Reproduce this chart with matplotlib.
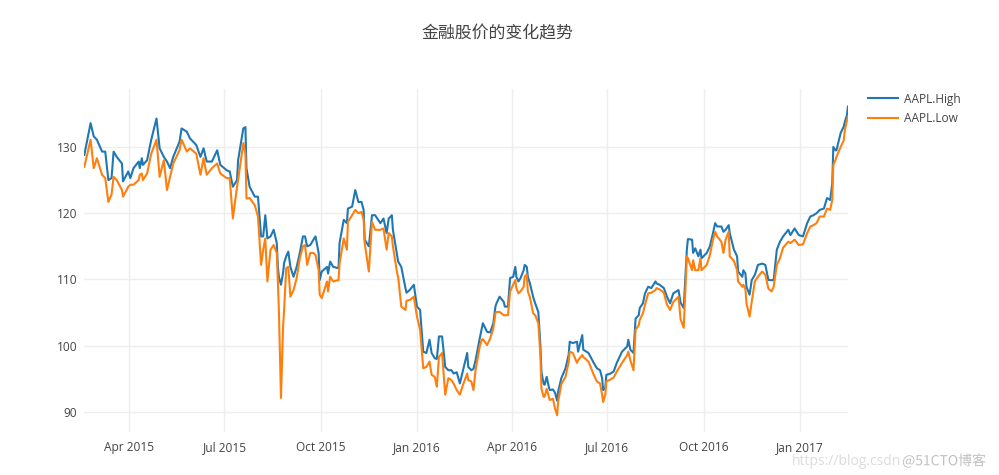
import pandas as pd
import matplotlib
matplotlib.use("Agg")
import matplotlib.pyplot as plt
import matplotlib.dates as mdates
import matplotlib.patheffects as pe

# days after 2015-02-17 for each sampled point
day_offset = [0, 6, 9, 12, 17, 20, 23, 26, 28, 31, 36, 37, 42, 44, 47, 52, 53, 55, 56, 60,
              64, 69, 72, 76, 79, 82, 85, 91, 93, 98, 101, 107, 111, 114, 117, 122, 127, 130, 136, 139,
              142, 146, 147, 152, 154, 155, 158, 163, 166, 169, 171, 173, 175, 178, 181, 184, 185, 186, 188, 190,
              191, 193, 195, 197, 200, 203, 206, 209, 211, 213, 216, 219, 221, 224, 225, 227, 232, 233, 235, 238,
              243, 244, 248, 251, 252, 256, 259, 262, 265, 267, 268, 272, 275, 278, 283, 286, 289, 291, 294, 295,
              299, 300, 303, 307, 308, 311, 315, 318, 321, 324, 327, 330, 332, 335, 337, 339, 342, 345, 348, 351,
              353, 356, 359, 362, 366, 367, 370, 372, 374, 378, 380, 381, 385, 388, 391, 393, 394, 397, 401, 402,
              405, 407, 410, 412, 413, 415, 417, 420, 421, 423, 424, 426, 429, 431, 434, 436, 437, 439, 440, 442,
              444, 445, 448, 450, 452, 453, 456, 460, 463, 464, 467, 471, 472, 476, 477, 482, 487, 490, 493, 495,
              496, 498, 499, 503, 506, 509, 514, 519, 520, 522, 525, 527, 530, 531, 534, 536, 539, 542, 546, 547,
              550, 554, 557, 560, 563, 568, 570, 573, 576, 577, 581, 582, 584, 587, 589, 590, 595, 598, 601, 603,
              605, 609, 611, 613, 616, 617, 621, 624, 625, 629, 630, 632, 633, 636, 638, 641, 644, 648, 651, 654,
              657, 659, 662, 665, 668, 673, 675, 679, 683, 687, 691, 694, 697, 700, 703, 707, 710, 713, 715, 716,
              718, 719, 723, 726, 727, 729, 730]

aapl_high = [128.8, 133.6, 131.6, 131.1, 129.3, 129.3, 125.0, 125.3, 129.3, 128.5, 127.5, 124.8, 126.3, 125.3, 126.8, 127.8, 126.8, 128.3, 127.3, 128.0,
             131.1, 134.3, 129.8, 128.5, 127.8, 126.8, 128.5, 130.8, 132.8, 132.3, 131.3, 130.3, 128.5, 129.8, 127.8, 127.8, 129.5, 127.3, 126.5, 126.3,
             124.0, 125.0, 128.0, 132.8, 133.0, 126.8, 124.0, 122.5, 122.5, 116.5, 116.5, 119.7, 116.2, 116.5, 117.5, 115.5, 111.9, 110.4, 109.2, 111.0,
             112.5, 113.5, 114.2, 111.9, 110.4, 111.9, 114.0, 116.5, 116.5, 115.0, 115.2, 116.0, 116.5, 114.0, 109.9, 111.2, 111.9, 110.9, 112.7, 111.9,
             111.7, 115.5, 119.0, 118.5, 120.7, 121.0, 123.5, 121.7, 121.7, 120.5, 116.0, 115.0, 119.7, 119.7, 118.5, 119.2, 117.0, 119.2, 119.7, 117.5,
             113.7, 112.7, 111.9, 108.7, 108.0, 108.4, 109.2, 105.9, 105.4, 99.1, 98.9, 100.9, 98.9, 98.1, 98.0, 101.4, 101.4, 96.8, 96.3, 96.3,
             95.8, 96.0, 94.3, 96.3, 98.9, 96.8, 96.3, 96.5, 97.8, 101.1, 102.6, 103.4, 102.1, 102.0, 103.4, 105.9, 106.4, 107.4, 106.6, 105.9,
             105.9, 110.2, 110.4, 111.9, 110.4, 109.7, 110.2, 111.4, 112.2, 111.9, 110.4, 109.4, 107.4, 106.4, 105.1, 100.0, 96.0, 94.3, 94.1, 95.3,
             93.8, 93.3, 93.4, 92.9, 91.7, 93.1, 95.1, 96.6, 98.6, 100.6, 100.4, 100.6, 99.1, 101.6, 99.4, 98.9, 97.4, 96.6, 96.3, 95.1,
             93.3, 93.6, 95.6, 95.8, 96.1, 97.4, 99.1, 99.9, 100.9, 99.4, 98.9, 104.1, 104.6, 105.7, 106.4, 107.9, 108.9, 108.7, 109.7, 109.4,
             109.2, 108.7, 107.4, 106.4, 107.9, 108.4, 106.5, 105.7, 114.5, 116.1, 116.0, 114.0, 114.7, 113.5, 114.5, 113.2, 114.0, 115.0, 117.0, 118.5,
             118.0, 118.0, 117.2, 117.5, 118.2, 117.0, 114.5, 113.5, 111.2, 110.4, 111.4, 110.9, 108.9, 107.7, 109.9, 110.7, 112.2, 112.4, 112.2, 109.9,
             109.9, 109.9, 114.5, 115.7, 116.5, 117.5, 116.7, 117.7, 116.7, 116.5, 118.5, 119.5, 119.7, 120.0, 120.5, 120.7, 122.3, 122.0, 124.5, 130.0,
             129.5, 129.5, 132.1, 133.1, 133.8, 134.8, 136.1]

aapl_low = [127.0, 131.1, 126.8, 128.3, 125.8, 125.3, 121.7, 122.8, 125.5, 125.0, 123.5, 122.5, 124.0, 124.3, 124.3, 125.0, 125.8, 126.0, 125.0, 126.0,
            129.0, 131.1, 125.5, 128.0, 123.5, 125.5, 127.5, 129.5, 131.1, 129.3, 129.8, 129.0, 125.8, 128.3, 125.8, 126.8, 127.5, 126.0, 125.3, 125.3,
            119.2, 124.0, 125.0, 130.6, 129.0, 122.2, 122.3, 121.2, 119.5, 112.2, 114.5, 116.2, 109.7, 114.5, 115.2, 114.0, 109.9, 105.4, 92.1, 102.9,
            105.4, 111.7, 111.9, 107.4, 108.4, 110.2, 113.2, 115.0, 115.2, 112.2, 114.0, 114.0, 113.7, 111.4, 107.7, 107.2, 109.7, 108.2, 110.4, 109.7,
            109.9, 112.4, 116.2, 114.5, 118.7, 119.7, 120.5, 120.0, 120.2, 119.0, 115.5, 111.2, 118.7, 117.5, 117.5, 117.7, 114.5, 117.0, 116.5, 115.0,
            111.0, 110.4, 105.9, 105.4, 106.8, 106.9, 107.4, 104.4, 102.4, 96.6, 96.8, 97.6, 95.6, 95.3, 93.8, 98.3, 98.9, 92.6, 95.1, 94.8,
            94.3, 93.3, 92.6, 94.1, 95.8, 94.8, 94.6, 93.3, 96.3, 99.9, 100.9, 101.0, 100.1, 101.1, 102.6, 104.9, 105.1, 105.1, 104.6, 104.6,
            104.6, 108.2, 109.2, 109.9, 108.7, 107.9, 108.2, 108.9, 110.4, 110.8, 108.2, 107.3, 104.9, 104.6, 103.4, 98.5, 93.5, 92.3, 92.3, 93.5,
            92.3, 91.8, 92.0, 90.5, 89.5, 91.6, 94.2, 95.3, 97.5, 99.1, 98.9, 97.4, 97.8, 98.6, 98.3, 97.6, 95.6, 94.6, 94.3, 92.6,
            91.5, 92.6, 94.6, 94.9, 95.2, 96.1, 97.4, 98.6, 99.1, 97.8, 96.3, 102.4, 103.1, 103.9, 104.9, 106.2, 107.9, 108.0, 108.4, 108.7,
            108.5, 108.0, 106.2, 105.4, 106.6, 107.4, 104.0, 102.7, 113.5, 113.2, 111.4, 112.9, 111.4, 111.4, 113.2, 111.4, 112.2, 113.7, 116.0, 117.2,
            116.5, 115.7, 114.0, 116.0, 117.2, 113.5, 112.8, 111.4, 109.7, 108.9, 109.2, 108.5, 106.4, 104.4, 106.6, 109.7, 110.4, 111.2, 110.7, 108.6,
            108.2, 108.9, 112.2, 113.2, 114.8, 115.7, 115.5, 116.0, 115.2, 115.3, 117.0, 118.0, 118.2, 118.5, 119.5, 119.5, 120.7, 120.5, 122.0, 127.3,
            128.0, 128.5, 130.0, 131.0, 132.5, 134.0, 134.6]

series_names = ["AAPL.High", "AAPL.Low"]
title_text = "金融股价的变化趋势"
y_ticks = [90, 100, 110, 120, 130]

dates = pd.Timestamp("2015-02-17") + pd.to_timedelta(day_offset, unit="D")
df = pd.DataFrame({"Date": dates, series_names[0]: aapl_high, series_names[1]: aapl_low})

plt.rcParams["font.family"] = ["Open Sans", "Noto Sans CJK SC", "DejaVu Sans"]

fig = plt.figure(figsize=(9.99, 4.75), dpi=100)
ax = fig.add_axes([0.0844, 0.0899, 0.7644, 0.7234])

ax.plot(df["Date"], df[series_names[0]], color="#1f77b4", lw=1.5, label=series_names[0])
ax.plot(df["Date"], df[series_names[1]], color="#ff7f0e", lw=1.5, label=series_names[1])

ax.set_xlim(df["Date"].iloc[0], df["Date"].iloc[-1])
ax.set_ylim(86.93, 138.8)
ax.set_yticks(y_ticks)
ax.xaxis.set_major_locator(mdates.MonthLocator(bymonth=[1, 4, 7, 10]))
ax.xaxis.set_major_formatter(mdates.DateFormatter("%b %Y"))

ax.grid(True, color="#eeeeee", lw=1)
ax.set_axisbelow(True)
for s in ax.spines.values():
    s.set_visible(False)
ax.tick_params(axis="both", length=0, labelsize=8.6, labelcolor="#444444")
ax.tick_params(axis="y", pad=5)
ax.tick_params(axis="x", pad=6)

fig.text(0.4975, 0.93, title_text, ha="center", va="center", fontsize=12.2,
         color="#444444", family=["Noto Sans CJK SC", "DejaVu Sans"])

fig.legend(loc="upper left", bbox_to_anchor=(0.869, 0.805), frameon=False,
           fontsize=8.6, handlelength=2.5, handletextpad=0.5, labelspacing=0.55,
           borderpad=0, borderaxespad=0, labelcolor="#444444")

# faint watermark in the bottom right corner
fig.text(0.793, 0.029, "https://blog.csdn", fontsize=10, color="#dcdcdc", va="center")
fig.text(0.903, 0.029, "@51CTO博客", fontsize=10, color="#c0c0c0", va="center",
         family=["Noto Sans CJK SC", "DejaVu Sans"],
         path_effects=[pe.withStroke(linewidth=2, foreground="white")])

fig.savefig("out.png", dpi=100)
